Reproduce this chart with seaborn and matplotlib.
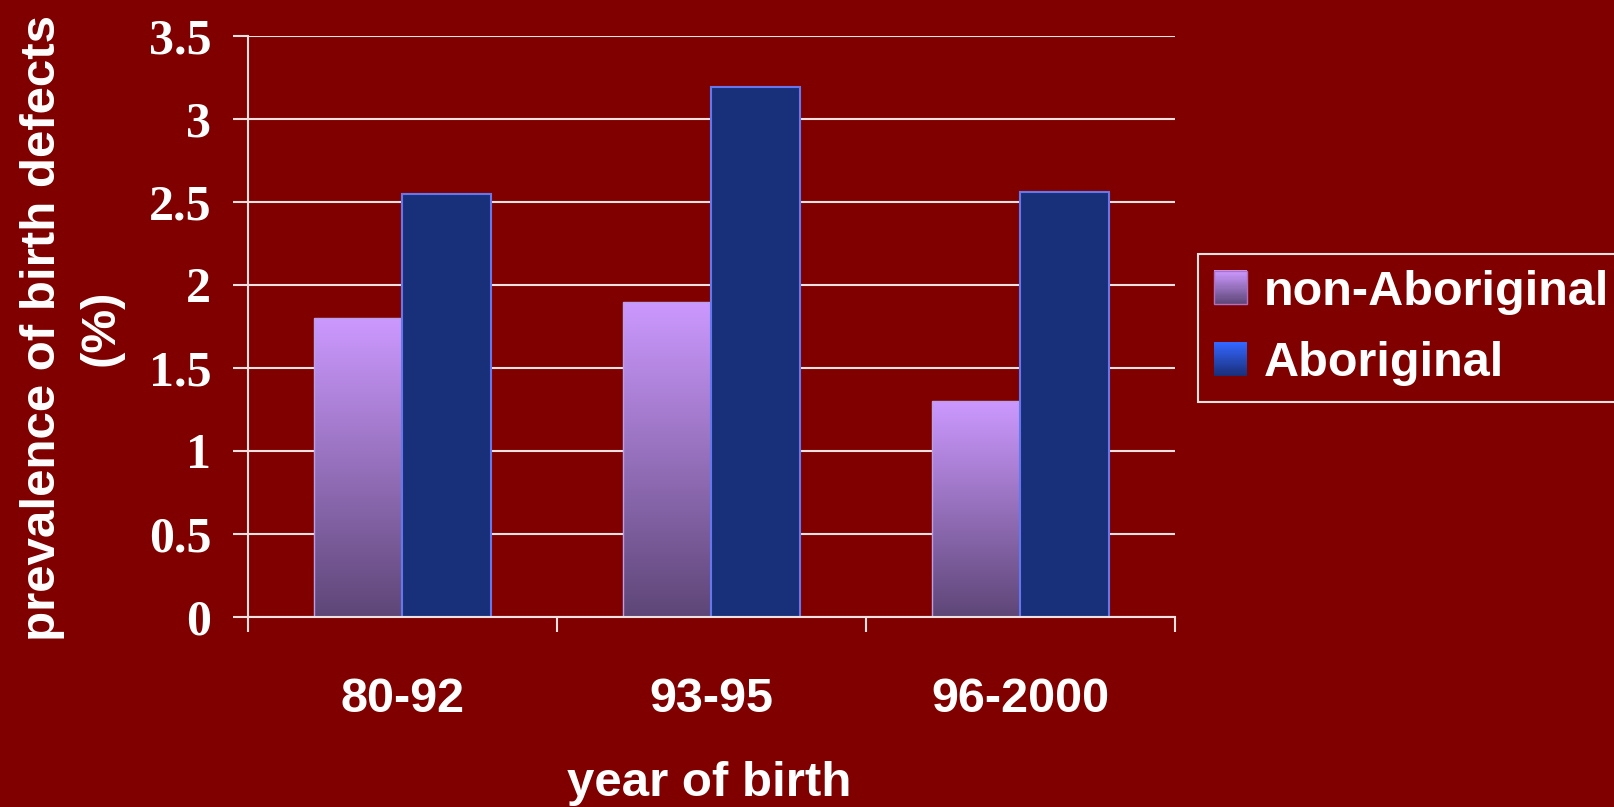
import numpy as np
import pandas as pd
import seaborn as sns
import matplotlib.pyplot as plt
from matplotlib.colors import LinearSegmentedColormap
from matplotlib.patches import Rectangle
from matplotlib.legend_handler import HandlerBase

# Data
periods = ['80-92', '93-95', '96-2000']
non_aboriginal = [1.8, 1.9, 1.3]
aboriginal = [2.55, 3.19, 2.56]
groups = ['non-Aboriginal', 'Aboriginal']

df = pd.DataFrame({
    'period': periods * 2,
    'prevalence': non_aboriginal + aboriginal,
    'group': [groups[0]] * 3 + [groups[1]] * 3,
})

BG = '#800000'
LAV_TOP = '#CC99FF'
LAV_BOT = '#5E4677'
NAVY = '#18307A'
NAVY_EDGE = '#6677EE'

lav_cmap = LinearSegmentedColormap.from_list('lav', [LAV_BOT, LAV_TOP])
blue_cmap = LinearSegmentedColormap.from_list('blu', ['#1A2F7A', '#3366FF'])

fig = plt.figure(figsize=(16.15, 8.07), dpi=100, facecolor=BG)
ax = fig.add_axes([248 / 1615, 190 / 807, 927 / 1615, 581 / 807])
ax.set_facecolor(BG)

sns.barplot(data=df, x='period', y='prevalence', hue='group', hue_order=groups,
            palette={groups[0]: LAV_TOP, groups[1]: NAVY}, width=0.576,
            saturation=1, legend=False, ax=ax)

# Aboriginal bars: solid navy with light blue edge
for bar in ax.containers[1]:
    bar.set_edgecolor(NAVY_EDGE)
    bar.set_linewidth(1.5)

# non-Aboriginal bars: vertical gradient clipped to each bar
grad = np.linspace(0, 1, 256).reshape(-1, 1)
for bar in ax.containers[0]:
    x0, w, h = bar.get_x(), bar.get_width(), bar.get_height()
    bar.set_facecolor('none')
    bar.set_edgecolor('#B8A0E8')
    bar.set_linewidth(1.0)
    im = ax.imshow(grad, extent=[x0, x0 + w, 0, h], origin='lower', aspect='auto',
                   cmap=lav_cmap, zorder=bar.get_zorder() - 0.1)
    im.set_clip_path(bar)

ax.set_xlim(-0.5, 2.5)
ax.set_ylim(0, 3.5)
ax.set_yticks(np.arange(0, 3.51, 0.5))
ax.set_yticklabels(['0', '0.5', '1', '1.5', '2', '2.5', '3', '3.5'])
ax.set_axisbelow(True)
ax.yaxis.grid(True, color='#F0E0E0', linewidth=1.5)
ax.xaxis.grid(False)

for s in ['top', 'right']:
    ax.spines[s].set_visible(False)
for s in ['left', 'bottom']:
    ax.spines[s].set_color('#F0E0E0')
    ax.spines[s].set_linewidth(1.5)

ax.tick_params(axis='y', colors='#F0E0E0', length=11, width=1.5, pad=15.5)
for lab in ax.get_yticklabels():
    lab.set_fontfamily('Liberation Serif')
    lab.set_fontweight('bold')
    lab.set_fontsize(36)
    lab.set_color('white')

ax.set_xticks([0, 1, 2])
ax.set_xticklabels(periods)
ax.set_xticks([-0.5, 0.5, 1.5, 2.5], minor=True)
ax.tick_params(axis='x', which='major', length=0, pad=43)
ax.tick_params(axis='x', which='minor', length=11, width=1.5, color='#F0E0E0')
for lab in ax.get_xticklabels():
    lab.set_fontfamily('Liberation Sans')
    lab.set_fontweight('bold')
    lab.set_fontsize(35)
    lab.set_color('white')

ax.set_xlabel('year of birth', fontfamily='Liberation Sans', fontweight='bold',
              fontsize=35.5, color='white', va='center')
ax.xaxis.set_label_coords(0.498, -0.287)
ax.set_ylabel('prevalence of birth defects\n(%)', fontfamily='Liberation Sans',
              fontweight='bold', fontsize=35.5, color='white', va='center',
              linespacing=1.38)
ax.yaxis.set_label_coords(-0.19, 0.497)


class GradientHandler(HandlerBase):
    def __init__(self, cmap, edge):
        super().__init__()
        self.cmap = cmap
        self.edge = edge

    def create_artists(self, legend, orig_handle, xdescent, ydescent, width, height,
                       fontsize, trans):
        n = 30
        arts = []
        for i in range(n):
            r = Rectangle((-xdescent, -ydescent + height * i / n), width, height / n + 0.3,
                          facecolor=self.cmap(i / (n - 1)), edgecolor='none',
                          transform=trans)
            arts.append(r)
        frame = Rectangle((-xdescent, -ydescent), width, height, facecolor='none',
                          edgecolor=self.edge, linewidth=1, transform=trans)
        arts.append(frame)
        return arts


h1 = Rectangle((0, 0), 1, 1)
h2 = Rectangle((0, 0), 1, 1)
leg = fig.legend([h1, h2], groups, loc='upper left',
                 bbox_to_anchor=(1198 / 1615, 1 - 254 / 807),
                 handler_map={h1: GradientHandler(lav_cmap, '#B070C0'),
                              h2: GradientHandler(blue_cmap, 'none')},
                 prop={'family': 'Liberation Sans', 'weight': 'bold', 'size': 35},
                 frameon=True, fancybox=False, facecolor=BG, edgecolor='#F0E0E0',
                 framealpha=1, handlelength=0.68, handleheight=0.68,
                 handletextpad=0.35, labelspacing=0.55, borderpad=0.32,
                 borderaxespad=0)
leg.get_frame().set_linewidth(1.5)
for t in leg.get_texts():
    t.set_color('white')

plt.savefig('out.png', dpi=100, facecolor=BG)
